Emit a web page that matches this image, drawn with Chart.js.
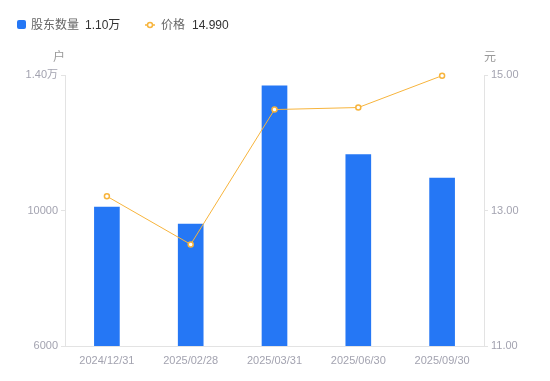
<!DOCTYPE html>
<html>
<head>
<meta charset="utf-8">
<script src="https://cdn.jsdelivr.net/npm/chart.js@4/dist/chart.umd.min.js"></script>
<style>
  html, body { margin: 0; padding: 0; background: #fff; }
  #wrap { width: 550px; height: 381px; position: relative; }
</style>
</head>
<body>
<div id="wrap"><canvas id="chart" width="550" height="381"></canvas></div>
<script>
const dates = ["2024/12/31", "2025/02/28", "2025/03/31", "2025/06/30", "2025/09/30"];
const holders = [10100, 9600, 13680, 11650, 10960];
const prices = [13.21, 12.50, 14.49, 14.52, 14.99];
const leftTicks = [6000, 10000, 14000];
const rightTicks = [11, 13, 15];

const FONT = "'Liberation Sans', 'Noto Sans CJK SC', sans-serif";
const blue = "#2577f5";
const orange = "#f7b43c";

function fmtHolders(v) {
    if (v >= 14000) return (v / 10000).toFixed(2) + "万";
    return String(v);
}

// legend + axis unit labels drawn on the canvas
const extras = {
    id: "extras",
    afterDraw(chart) {
        const ctx = chart.ctx;
        ctx.save();
        ctx.textBaseline = "middle";
        ctx.font = "12px " + FONT;
        // blue square
        ctx.fillStyle = blue;
        ctx.beginPath();
        ctx.roundRect(17, 20, 9, 9, 2);
        ctx.fill();
        ctx.fillStyle = "#666";
        ctx.fillText("股东数量", 31, 26);
        ctx.fillStyle = "#333";
        ctx.fillText((1.10).toFixed(2) + "万", 85, 26);
        // orange line marker
        ctx.strokeStyle = orange;
        ctx.lineWidth = 1.5;
        ctx.beginPath();
        ctx.moveTo(145, 25); ctx.lineTo(155, 25);
        ctx.stroke();
        ctx.beginPath();
        ctx.arc(150, 25, 2.5, 0, Math.PI * 2);
        ctx.fillStyle = "#fff";
        ctx.fill();
        ctx.stroke();
        ctx.fillStyle = "#666";
        ctx.fillText("价格", 161, 26);
        ctx.fillStyle = "#333";
        ctx.fillText(prices[prices.length - 1].toFixed(3), 192, 26);
        // unit labels
        ctx.fillStyle = "#999";
        ctx.textAlign = "center";
        ctx.fillText("户", 59, 58);
        ctx.fillText("元", 490, 58);
        ctx.restore();
    }
};

new Chart(document.getElementById("chart"), {
    data: {
        labels: dates,
        datasets: [
            {
                type: "line",
                label: "价格",
                data: prices,
                yAxisID: "y1",
                borderColor: orange,
                borderWidth: 1,
                pointRadius: 2.5,
                pointBorderWidth: 1.5,
                pointBackgroundColor: "#fff",
                pointBorderColor: orange,
                tension: 0,
                clip: false,
                order: 0
            },
            {
                type: "bar",
                label: "股东数量",
                data: holders,
                yAxisID: "y",
                backgroundColor: blue,
                barThickness: 25,
                order: 1
            }
        ]
    },
    options: {
        responsive: false,
        animation: false,
        layout: { padding: { top: 75, left: 0, right: 0, bottom: 0 } },
        plugins: {
            legend: { display: false },
            tooltip: { enabled: false }
        },
        scales: {
            x: {
                grid: { display: false },
                border: { display: true, color: "#e3e3e3" },
                ticks: { color: "#a3a3b0", font: { size: 11, family: FONT }, padding: 0, maxRotation: 0 },
                afterFit(scale) { scale.height = 35; }
            },
            y: {
                position: "left",
                min: 6000,
                max: 14000,
                afterBuildTicks(scale) { scale.ticks = leftTicks.map(v => ({ value: v })); },
                grid: { drawOnChartArea: false, tickLength: 4, color: "#e3e3e3" },
                border: { display: true, color: "#e3e3e3" },
                ticks: { color: "#a3a3b0", font: { size: 11, family: FONT }, padding: 3, callback: v => fmtHolders(v) },
                afterFit(scale) { scale.width = 65; }
            },
            y1: {
                position: "right",
                min: 11,
                max: 15,
                afterBuildTicks(scale) { scale.ticks = rightTicks.map(v => ({ value: v })); },
                grid: { drawOnChartArea: false, tickLength: 4, color: "#e3e3e3" },
                border: { display: true, color: "#e3e3e3" },
                ticks: { color: "#a3a3b0", font: { size: 11, family: FONT }, padding: 3, callback: v => Number(v).toFixed(2) },
                afterFit(scale) { scale.width = 66; }
            }
        }
    },
    plugins: [extras]
});
</script>
</body>
</html>
